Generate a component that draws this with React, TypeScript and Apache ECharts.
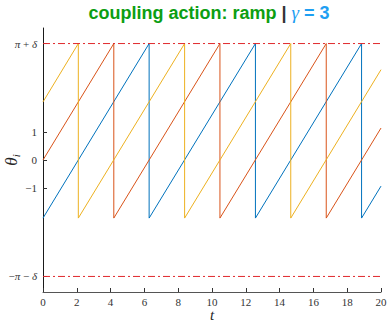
import React, { useEffect, useRef } from "react";
import * as echarts from "echarts";

// Sawtooth phases θ_i(t): breakpoints
const blueT = [0, 6.28, 6.28, 12.57, 12.57, 18.85, 18.85, 20];
const blueY = [-2.09, 4.19, -2.09, 4.19, -2.09, 4.19, -2.09, -0.94];
const orangeT = [0, 4.19, 4.19, 10.47, 10.47, 16.76, 16.76, 20];
const orangeY = [0, 4.19, -2.09, 4.19, -2.09, 4.19, -2.09, 1.15];
const yellowT = [0, 2.09, 2.09, 8.38, 8.38, 14.66, 14.66, 20];
const yellowY = [2.09, 4.19, -2.09, 4.19, -2.09, 4.19, -2.09, 3.25];

// bounds ±(π + δ)
const boundT = [0, 20];
const upperBound = [4.19, 4.19];
const lowerBound = [-4.19, -4.19];

const yTickValues = [-4.19, -1, 0, 1, 4.19];
const yTickLabels = ["−{i|π} − {i|δ}", "−1", "0", "1", "{i|π} + {i|δ}"];
const xTickValues = [0, 2, 4, 6, 8, 10, 12, 14, 16, 18, 20];

const zip = (t: number[], y: number[]) => t.map((v, i) => [v, y[i]]);

export default function App() {
  const ref = useRef<HTMLDivElement>(null);
  useEffect(() => {
    if (!ref.current) return;
    const chart = echarts.init(ref.current, null, { renderer: "svg" });
    const serif = "'Liberation Serif', 'DejaVu Serif', serif";
    const sans = "'Liberation Sans', Arial, sans-serif";
    const labelColor = "#333333";
    const lineSeries = (name: string, t: number[], y: number[], color: string) => ({
      name,
      type: "line",
      data: zip(t, y),
      showSymbol: false,
      symbol: "none",
      lineStyle: { color, width: 1 },
      silent: true,
    });
    const boundSeries = (name: string, y: number[]) => ({
      name,
      type: "line",
      data: zip(boundT, y),
      showSymbol: false,
      symbol: "none",
      lineStyle: { color: "#e0282c", width: 1, type: [7, 3, 2, 3] },
      silent: true,
    });
    chart.setOption({
      animation: false,
      backgroundColor: "#ffffff",
      grid: { left: 43, right: 6, top: 28, bottom: 31, containLabel: false, outerBoundsMode: "none" },
      graphic: [
        {
          type: "text",
          x: 209,
          y: 3,
          style: {
            text: "{g|coupling action: ramp }{s|| }{b|γ}{c| = 3}",
            align: "center",
            rich: {
              g: { fontFamily: sans, fontWeight: "bold", fontSize: 18, fill: "#0c9e12" },
              s: { fontFamily: sans, fontWeight: "bold", fontSize: 18, fill: "#333333" },
              b: { fontFamily: serif, fontStyle: "italic", fontSize: 19, fill: "#1f9ff2" },
              c: { fontFamily: sans, fontWeight: "bold", fontSize: 18, fill: "#1f9ff2" },
            },
          },
        },
      ],
      xAxis: {
        type: "value",
        min: 0,
        max: 20,
        interval: 2,
        name: "t",
        nameLocation: "middle",
        nameGap: 16,
        nameMoveOverlap: false,
        nameTextStyle: { fontFamily: serif, fontStyle: "italic", fontSize: 15, color: "#262626", verticalAlign: "top", lineHeight: 14 },
        axisLine: { onZero: false, lineStyle: { color: "#555555", width: 1 } },
        axisTick: { inside: true, length: 4, lineStyle: { color: "#333333" }, customValues: xTickValues },
        axisLabel: { fontFamily: serif, fontSize: 11, color: labelColor, margin: 5, lineHeight: 10, customValues: xTickValues },
        splitLine: { show: false },
      },
      yAxis: {
        type: "value",
        min: -4.75,
        max: 4.75,
        name: "{a|θ}{b|i}",
        nameLocation: "middle",
        nameGap: 22,
        nameRotate: 90,
        nameMoveOverlap: false,
        nameTextStyle: {
          rich: {
            a: { fontFamily: serif, fontStyle: "italic", fontSize: 17, color: "#262626" },
            b: { fontFamily: serif, fontStyle: "italic", fontSize: 11, color: "#262626", padding: [8, 0, 0, 0] },
          },
        },
        axisLine: { show: true, onZero: false, lineStyle: { color: "#1a1a1a", width: 1 } },
        axisTick: { show: true, inside: true, length: 4, lineStyle: { color: "#333333" }, customValues: yTickValues },
        axisLabel: {
          fontFamily: serif,
          fontSize: 11,
          color: labelColor,
          margin: 6,
          customValues: yTickValues,
          formatter: (v: number) => {
            let best = 0;
            yTickValues.forEach((tv, i) => {
              if (Math.abs(tv - v) < Math.abs(yTickValues[best] - v)) best = i;
            });
            return yTickLabels[best];
          },
          rich: {
            i: { fontFamily: serif, fontStyle: "italic", fontSize: 11, color: labelColor },
          },
        },
        splitLine: { show: false },
      },
      series: [
        lineSeries("θ1", blueT, blueY, "#0072BD"),
        lineSeries("θ2", orangeT, orangeY, "#D95319"),
        lineSeries("θ3", yellowT, yellowY, "#EDB120"),
        boundSeries("upper", upperBound),
        boundSeries("lower", lowerBound),
      ],
    });
    return () => chart.dispose();
  }, []);
  return (
    <div
      ref={ref}
      style={{ position: "fixed", left: 0, top: 0, width: 387, height: 323 }}
    />
  );
}
